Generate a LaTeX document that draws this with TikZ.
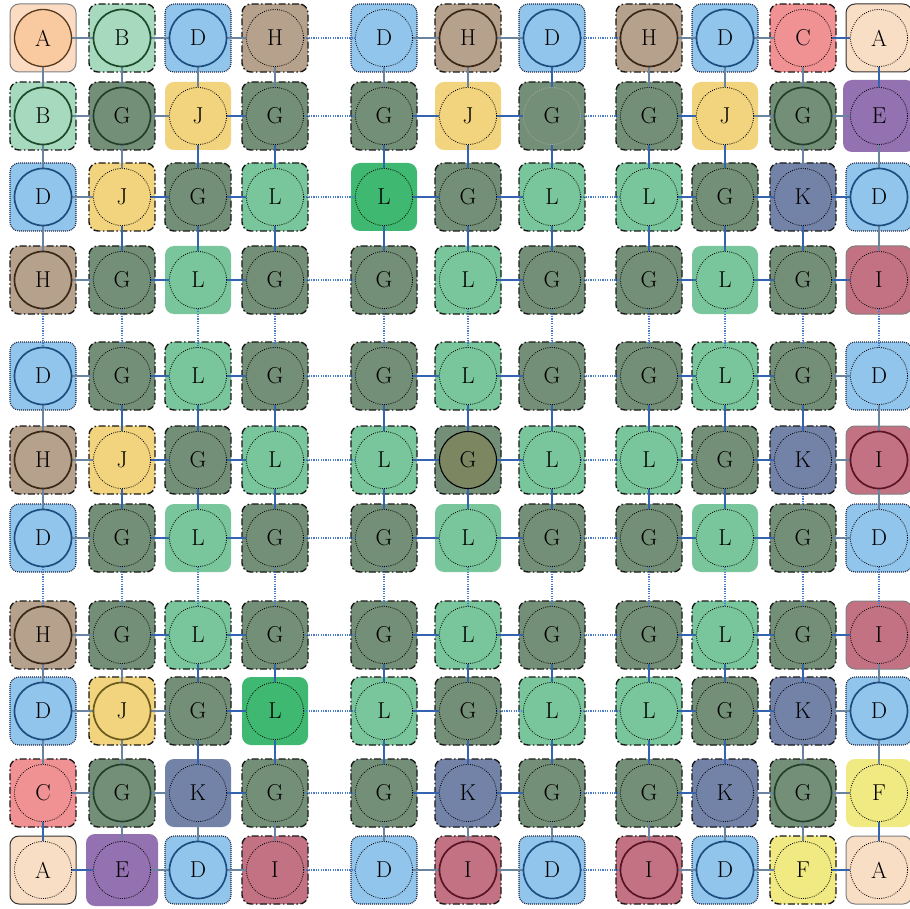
\documentclass[tikz,border=0pt]{standalone}
\usetikzlibrary{shapes.geometric}
\definecolor{fA0}{HTML}{FBDCC3}
\definecolor{cA0}{HTML}{F9C9A0}
\definecolor{fA}{HTML}{F9DEC6}
\definecolor{fB}{HTML}{A6D9BE}
\definecolor{fC}{HTML}{F09194}
\definecolor{fD}{HTML}{92C5EB}
\definecolor{fE}{HTML}{9471B0}
\definecolor{fF}{HTML}{F1EA82}
\definecolor{fG}{HTML}{748F77}
\definecolor{fH}{HTML}{B6A18D}
\definecolor{fI}{HTML}{C27282}
\definecolor{fJ}{HTML}{F1D47D}
\definecolor{fK}{HTML}{7383A8}
\definecolor{fL}{HTML}{79C69C}
\definecolor{fLb}{HTML}{3FB872}
\definecolor{cCen}{HTML}{7C8762}
\definecolor{dD}{HTML}{1E4E80}
\definecolor{dH}{HTML}{3A2818}
\definecolor{dB}{HTML}{1E4A2A}
\definecolor{dG}{HTML}{25402A}
\definecolor{dI}{HTML}{5A1525}
\definecolor{dJ}{HTML}{6B5A1E}
\definecolor{eThick}{HTML}{3464B0}
\definecolor{eThin}{HTML}{6A84A0}
\definecolor{eDot}{HTML}{4A7CC8}
\definecolor{bDotC}{HTML}{1E2846}
\begin{document}
\begin{tikzpicture}[x=1pt,y=-1pt,
  cellbox/.style={rectangle, rounded corners=9pt, minimum width=66pt, minimum height=68pt, inner sep=0pt},
  big/.style={minimum width=72pt, minimum height=72pt},
  bdd/.style={draw=black!90, line width=1.4pt, dash pattern=on 7pt off 2.5pt on 1.5pt off 2.5pt},
  bdot/.style={draw=bDotC, line width=1.1pt, dash pattern=on 1pt off 1pt},
  bsolg/.style={draw=black!50, line width=1pt},
  bsolk/.style={draw=black!80, line width=1pt},
  bnone/.style={draw=none},
  circ/.style={circle, minimum size=57pt, inner sep=0pt, font=\fontsize{23}{25}\selectfont},
  dt/.style={draw=black, line width=0.8pt, dash pattern=on 0.9pt off 1.3pt},
  dtf/.style={draw=black!35, line width=0.8pt, dash pattern=on 0.9pt off 1.3pt},
  dkD/.style={draw=dD, line width=1.7pt},
  dkH/.style={draw=dH, line width=1.7pt},
  dkB/.style={draw=dB, line width=1.7pt},
  dkG/.style={draw=dG, line width=1.7pt},
  dkI/.style={draw=dI, line width=1.7pt},
  dkJ/.style={draw=dJ, line width=1.7pt},
  solA/.style={draw=black!55!brown, line width=1.3pt, fill=cA0},
  solC/.style={draw=black, line width=1.1pt, fill=cCen},
  eT/.style={draw=eThick, line width=2.4pt},
  et/.style={draw=eThin, line width=1.3pt},
  ed/.style={draw=eDot, line width=1.2pt, dash pattern=on 1.2pt off 1.2pt},
  enone/.style={draw=none}
]
\useasboundingbox (0,0) rectangle (910,909);
\fill[white] (0,0) rectangle (910,909);
% ---------- cells ----------
\foreach \r/\y/\lst in {
 0/38/{0/43/A/fA0/bsolg/solA,1/122/B/fB/bdd/dkB,2/198/D/fD/bdot/dkD,3/275/H/fH/bdd/dt,4/384/D/fD/bdot/dt,5/468/H/fH/bdd/dkH,6/552/D/fD/bdot/dkD,7/649/H/fH/bdd/dkH,8/725/D/fD/bdot/dkD,9/803/C/fC/bdd/dt,10/879/A/fA/bsolk/dt},
 1/116/{0/43/B/fB/bdd/dkB,1/122/G/fG/bdd/dkG,2/198/J/fJ/bnone/dt,3/275/G/fG/bdd/dt,4/384/G/fG/bdd/dt,5/468/J/fJ/bnone/dt,6/552/G/fG/bdd/dtf,7/649/G/fG/bdd/dt,8/725/J/fJ/bnone/dt,9/803/G/fG/bdd/dkG,10/879/E/fE/bnone/dt},
 2/197/{0/43/D/fD/bdot/dkD,1/122/J/fJ/bdd/dt,2/198/G/fG/bdd/dt,3/275/L/fL/bdd/dt,4/384/L/fLb/bnone/dt,5/468/G/fG/bdd/dt,6/552/L/fL/bdd/dt,7/649/L/fL/bdd/dt,8/725/G/fG/bdd/dt,9/803/K/fK/bdd/dt,10/879/D/fD/bdot/dkD},
 3/280/{0/43/H/fH/bdd/dkH,1/122/G/fG/bdd/dt,2/198/L/fL/bnone/dt,3/275/G/fG/bdd/dt,4/384/G/fG/bdd/dt,5/468/L/fL/bdd/dt,6/552/G/fG/bdd/dt,7/649/G/fG/bdd/dt,8/725/L/fL/bnone/dt,9/803/G/fG/bdd/dt,10/879/I/fI/bsolg/dt},
 4/376/{0/43/D/fD/bdot/dkD,1/122/G/fG/bdd/dt,2/198/L/fL/bdd/dt,3/275/G/fG/bdd/dt,4/384/G/fG/bdd/dt,5/468/L/fL/bdd/dt,6/552/G/fG/bdd/dt,7/649/G/fG/bdd/dt,8/725/L/fL/bdd/dt,9/803/G/fG/bdd/dt,10/879/D/fD/bdot/dt},
 5/460/{0/43/H/fH/bdd/dkH,1/122/J/fJ/bdd/dt,2/198/G/fG/bdd/dt,3/275/L/fL/bdd/dt,4/384/L/fL/bdd/dt,5/468/G/fG/bdd/solC,6/552/L/fL/bdd/dt,7/649/L/fL/bdd/dt,8/725/G/fG/bdd/dt,9/803/K/fK/bdd/dt,10/879/I/fI/bsolg/dkI},
 6/538/{0/43/D/fD/bdot/dkD,1/122/G/fG/bdd/dt,2/198/L/fL/bnone/dt,3/275/G/fG/bdd/dt,4/384/G/fG/bdd/dt,5/468/L/fL/bnone/dt,6/552/G/fG/bdd/dt,7/649/G/fG/bdd/dt,8/725/L/fL/bnone/dt,9/803/G/fG/bdd/dt,10/879/D/fD/bdot/dt},
 7/635/{0/43/H/fH/bdd/dkH,1/122/G/fG/bdd/dt,2/198/L/fL/bdd/dt,3/275/G/fG/bdd/dt,4/384/G/fG/bdd/dt,5/468/L/fL/bdd/dt,6/552/G/fG/bdd/dt,7/649/G/fG/bdd/dt,8/725/L/fL/bdd/dt,9/803/G/fG/bdd/dt,10/879/I/fI/bsolg/dt},
 8/711/{0/43/D/fD/bdot/dkD,1/122/J/fJ/bdd/dkJ,2/198/G/fG/bdd/dt,3/275/L/fLb/bnone/dt,4/384/L/fL/bdd/dt,5/468/G/fG/bdd/dt,6/552/L/fL/bdd/dt,7/649/L/fL/bdd/dt,8/725/G/fG/bdd/dt,9/803/K/fK/bdd/dt,10/879/D/fD/bdot/dkD},
 9/793/{0/43/C/fC/bdd/dt,1/122/G/fG/bdd/dkG,2/198/K/fK/bnone/dt,3/275/G/fG/bdd/dt,4/384/G/fG/bdd/dt,5/468/K/fK/bdd/dt,6/552/G/fG/bdd/dt,7/649/G/fG/bdd/dt,8/725/K/fK/bdd/dt,9/803/G/fG/bdd/dkG,10/879/F/fF/bnone/dt},
 10/870/{0/43/A/fA/bsolk/dt,1/122/E/fE/bnone/dt,2/198/D/fD/bdot/dkD,3/275/I/fI/bdd/dt,4/384/D/fD/bdot/dt,5/468/I/fI/bdd/dkI,6/552/D/fD/bdot/dkD,7/649/I/fI/bdd/dkI,8/725/D/fD/bdot/dkD,9/803/F/fF/bdd/dt,10/879/A/fA/bsolg/dt}}
{
  \foreach \c/\x/\l/\f/\b/\s in \lst {
    \node[cellbox, fill=\f, \b] (b\r-\c) at (\x,\y) {};
    \node[circ] (n\r-\c) at (\x,\y) {};
  }
}
\node[cellbox, big, fill=fE] (bE1) at (b1-10) {};
\node[cellbox, big, fill=fE] (bE2) at (b10-1) {};
% ---------- horizontal connectors ----------
\foreach \r/\lst in {
 0/{et,et,et,ed,et,et,ed,et,et,eT},
 1/{et,et,eT,ed,eT,eT,ed,eT,et,et},
 2/{et,eT,eT,ed,eT,eT,ed,eT,eT,eT},
 3/{et,eT,eT,ed,enone,eT,ed,eT,eT,eT},
 4/{et,eT,eT,ed,eT,eT,ed,eT,eT,et},
 5/{et,eT,eT,ed,eT,eT,ed,eT,eT,et},
 6/{et,eT,eT,ed,eT,eT,ed,eT,eT,et},
 7/{et,eT,eT,ed,eT,eT,ed,eT,eT,eT},
 8/{et,et,eT,ed,eT,ed,ed,eT,eT,et},
 9/{et,et,eT,ed,eT,eT,ed,eT,et,et},
 10/{eT,et,et,ed,et,et,ed,et,et,eT}}
{
  \foreach \t [count=\i from 0] in \lst {
    \pgfmathtruncatemacro\j{\i+1}
    \draw[\t] (n\r-\i) -- (n\r-\j);
  }
}
% ---------- vertical connectors ----------
\foreach \c/\lst in {
 0/{et,et,et,ed,et,et,ed,et,et,eT},
 1/{et,et,eT,ed,eT,eT,ed,et,et,et},
 2/{et,eT,eT,ed,eT,eT,ed,eT,eT,et},
 3/{et,eT,eT,ed,eT,eT,ed,eT,eT,et},
 4/{et,eT,eT,ed,eT,eT,ed,eT,eT,et},
 5/{et,eT,eT,ed,eT,eT,ed,eT,eT,et},
 6/{eT,eT,eT,ed,eT,eT,ed,eT,eT,et},
 7/{et,eT,eT,ed,eT,eT,ed,eT,eT,et},
 8/{et,eT,eT,ed,eT,eT,ed,eT,eT,et},
 9/{et,et,eT,ed,eT,ed,ed,eT,et,et},
 10/{eT,et,et,ed,et,et,ed,et,et,eT}}
{
  \foreach \t [count=\i from 0] in \lst {
    \pgfmathtruncatemacro\j{\i+1}
    \draw[\t] (n\i-\c) -- (n\j-\c);
  }
}
% ---------- circles with letters ----------
\foreach \r/\y/\lst in {
 0/38/{0/43/A/solA,1/122/B/dkB,2/198/D/dkD,3/275/H/dt,4/384/D/dt,5/468/H/dkH,6/552/D/dkD,7/649/H/dkH,8/725/D/dkD,9/803/C/dt,10/879/A/dt},
 1/116/{0/43/B/dkB,1/122/G/dkG,2/198/J/dt,3/275/G/dt,4/384/G/dt,5/468/J/dt,6/552/G/dtf,7/649/G/dt,8/725/J/dt,9/803/G/dkG,10/879/E/dt},
 2/197/{0/43/D/dkD,1/122/J/dt,2/198/G/dt,3/275/L/dt,4/384/L/dt,5/468/G/dt,6/552/L/dt,7/649/L/dt,8/725/G/dt,9/803/K/dt,10/879/D/dkD},
 3/280/{0/43/H/dkH,1/122/G/dt,2/198/L/dt,3/275/G/dt,4/384/G/dt,5/468/L/dt,6/552/G/dt,7/649/G/dt,8/725/L/dt,9/803/G/dt,10/879/I/dt},
 4/376/{0/43/D/dkD,1/122/G/dt,2/198/L/dt,3/275/G/dt,4/384/G/dt,5/468/L/dt,6/552/G/dt,7/649/G/dt,8/725/L/dt,9/803/G/dt,10/879/D/dt},
 5/460/{0/43/H/dkH,1/122/J/dt,2/198/G/dt,3/275/L/dt,4/384/L/dt,5/468/G/solC,6/552/L/dt,7/649/L/dt,8/725/G/dt,9/803/K/dt,10/879/I/dkI},
 6/538/{0/43/D/dkD,1/122/G/dt,2/198/L/dt,3/275/G/dt,4/384/G/dt,5/468/L/dt,6/552/G/dt,7/649/G/dt,8/725/L/dt,9/803/G/dt,10/879/D/dt},
 7/635/{0/43/H/dkH,1/122/G/dt,2/198/L/dt,3/275/G/dt,4/384/G/dt,5/468/L/dt,6/552/G/dt,7/649/G/dt,8/725/L/dt,9/803/G/dt,10/879/I/dt},
 8/711/{0/43/D/dkD,1/122/J/dkJ,2/198/G/dt,3/275/L/dt,4/384/L/dt,5/468/G/dt,6/552/L/dt,7/649/L/dt,8/725/G/dt,9/803/K/dt,10/879/D/dkD},
 9/793/{0/43/C/dt,1/122/G/dkG,2/198/K/dt,3/275/G/dt,4/384/G/dt,5/468/K/dt,6/552/G/dt,7/649/G/dt,8/725/K/dt,9/803/G/dkG,10/879/F/dt},
 10/870/{0/43/A/dt,1/122/E/dt,2/198/D/dkD,3/275/I/dt,4/384/D/dt,5/468/I/dkI,6/552/D/dkD,7/649/I/dkI,8/725/D/dkD,9/803/F/dt,10/879/A/dt}}
{
  \foreach \c/\x/\l/\s in \lst {
    \node[circ, \s] (t\r-\c) at (\x,\y) {\l};
  }
}
\end{tikzpicture}
\end{document}
